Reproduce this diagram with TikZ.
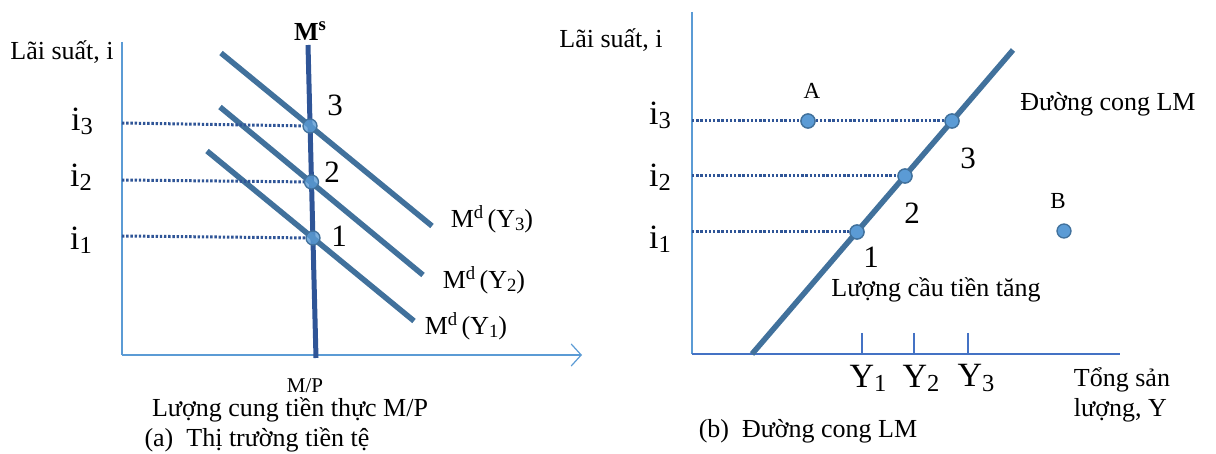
\documentclass[tikz,border=0pt]{standalone}
\usepackage{graphicx}
\usepackage{fontspec}
\setmainfont{Liberation Serif}
\usetikzlibrary{arrows.meta}
\definecolor{axisblue}{HTML}{5B9BD5}
\definecolor{axisdark}{HTML}{4472C4}
\definecolor{curveblue}{HTML}{41719C}
\definecolor{msblue}{HTML}{2F5597}
\definecolor{dotblue}{HTML}{2F5597}
\definecolor{ptfill}{HTML}{5B9BD5}
\newcommand{\lsub}[1]{\raisebox{-0.12em}{\scalebox{0.72}{#1}}}
\newcommand{\hsup}[1]{\raisebox{0.36em}{\scalebox{0.72}{#1}}}
\begin{document}
\begin{tikzpicture}[x=1pt,y=-1pt,
 txt/.style={inner sep=0pt, font=\fontsize{26}{30}\selectfont},
 mid/.style={inner sep=0pt, font=\fontsize{23}{26}\selectfont},
 big/.style={inner sep=0pt, font=\fontsize{34}{38}\selectfont},
 num/.style={inner sep=0pt, font=\fontsize{31}{34}\selectfont},
 axisline/.style={draw=axisblue, line width=1.2pt},
 curve/.style={draw=curveblue, line width=5.5pt},
 guide/.style={draw=dotblue, line width=3pt, dash pattern=on 2.4pt off 1.8pt},
 pt/.style={circle, fill=ptfill, draw=curveblue, line width=1.3pt, minimum size=14pt, inner sep=0pt},
]
\useasboundingbox (0,0) rectangle (1216,454);

% ---------- panel (a) ----------
\coordinate (aO) at (122,355);
\coordinate (aTop) at (122,42);
\coordinate (aEnd) at (582,355);
\draw[axisline] (aTop) -- (aO);
\draw[axisline, -{Straight Barb[length=10pt,width=22pt]}] (aO) -- (aEnd);

\coordinate (msTop) at (308,45);
\coordinate (msBot) at (316,358);
\draw[draw=msblue, line width=5pt] (msTop) -- (msBot);
\node[inner sep=0pt, font=\fontsize{26}{28}\selectfont\bfseries] (ms) at (310,31) {M\hsup{s}};

\coordinate (d3a) at (221,53);  \coordinate (d3b) at (432,226);
\coordinate (d2a) at (220,107); \coordinate (d2b) at (423,275);
\coordinate (d1a) at (207,151); \coordinate (d1b) at (414,321);
\draw[curve] (d3a) -- (d3b);
\draw[curve] (d2a) -- (d2b);
\draw[curve] (d1a) -- (d1b);

\coordinate (ai3) at (122,123);
\coordinate (ai2) at (122,180);
\coordinate (ai1) at (122,236);
\node[pt, fill opacity=0.8] (p3) at (310,126) {};
\node[pt, fill opacity=0.8] (p2) at (311.5,182) {};
\node[pt, fill opacity=0.8] (p1) at (313,238) {};
\draw[guide] (ai3) -- (p3);
\draw[guide] (ai2) -- (p2);
\draw[guide] (ai1) -- (p1);

\node[txt] (ylabA) at (62,52) {Lãi suất, i};
\node[big] (li3) at (82,121) {i\lsub{3}};
\node[big] (li2) at (81,177) {i\lsub{2}};
\node[big] (li1) at (81,240) {i\lsub{1}};
\node[num] (n3) at (335,105) {3};
\node[num] (n2) at (332,172) {2};
\node[num] (n1) at (339,236) {1};
\node[txt] (md3) at (492,219) {M\hsup{d}\,(Y\lsub{3})};
\node[txt] (md2) at (484,280) {M\hsup{d}\,(Y\lsub{2})};
\node[txt] (md1) at (466,326) {M\hsup{d}\,(Y\lsub{1})};
\node[mid, font=\fontsize{21}{24}\selectfont] (mp) at (305,386) {M/P};
\node[txt] (xlabA) at (290,410) {Lượng cung tiền thực M/P};
\node[txt] (capA) at (257,440) {(a)\ \ Thị trường tiền tệ};

% ---------- panel (b) ----------
\coordinate (bO) at (692,354);
\coordinate (bTop) at (692,12);
\coordinate (bEnd) at (1120,354);
\draw[axisline] (bTop) -- (bO);
\draw[draw=axisdark, line width=2.5pt] (bO) -- (bEnd);

\coordinate (lmA) at (752,354);
\coordinate (lmB) at (1013,50);
\draw[curve] (lmA) -- (lmB);

\coordinate (bi3) at (692,121);
\coordinate (bi2) at (692,176);
\coordinate (bi1) at (692,232);
\node[pt] (ptA) at (808,121) {};
\node[pt] (q3) at (952,121) {};
\node[pt] (q2) at (905,176) {};
\node[pt] (q1) at (857,232) {};
\node[pt] (ptB) at (1064,231) {};
\draw[guide] (bi3) -- (ptA) -- (q3);
\draw[guide] (bi2) -- (q2);
\draw[guide] (bi1) -- (q1);
\node[pt] at (ptA) {};
\node[pt] at (q3) {};
\node[pt] at (q2) {};
\node[pt] at (q1) {};

\foreach \x/\n in {862/t1, 914/t2, 968/t3}{
  \coordinate (\n a) at (\x,333);
  \coordinate (\n b) at (\x,354);
  \draw[draw=axisdark, line width=2pt] (\n a) -- (\n b);
}

\node[txt] (ylabB) at (611,40) {Lãi suất, i};
\node[big] (ri3) at (660,115) {i\lsub{3}};
\node[big] (ri2) at (660,177) {i\lsub{2}};
\node[big] (ri1) at (660,239) {i\lsub{1}};
\node[mid] (labA) at (812,91) {A};
\node[mid] (labB) at (1058,201) {B};
\node[txt] (lmlab) at (1108,104) {Đường cong LM};
\node[num] (m3) at (968,158) {3};
\node[num] (m2) at (912,213) {2};
\node[num] (m1) at (871,257) {1};
\node[txt] (incr) at (936,290) {Lượng cầu tiền tăng};
\node[big] (y1) at (868,378) {Y\lsub{1}};
\node[big] (y2) at (921,378) {Y\lsub{2}};
\node[big] (y3) at (976,378) {Y\lsub{3}};
\node[txt, align=left] (xlabB) at (1122,395) {Tổng sản\\lượng, Y};
\node[txt] (capB) at (808,431) {(b)\ \ Đường cong LM};
\end{tikzpicture}
\end{document}
